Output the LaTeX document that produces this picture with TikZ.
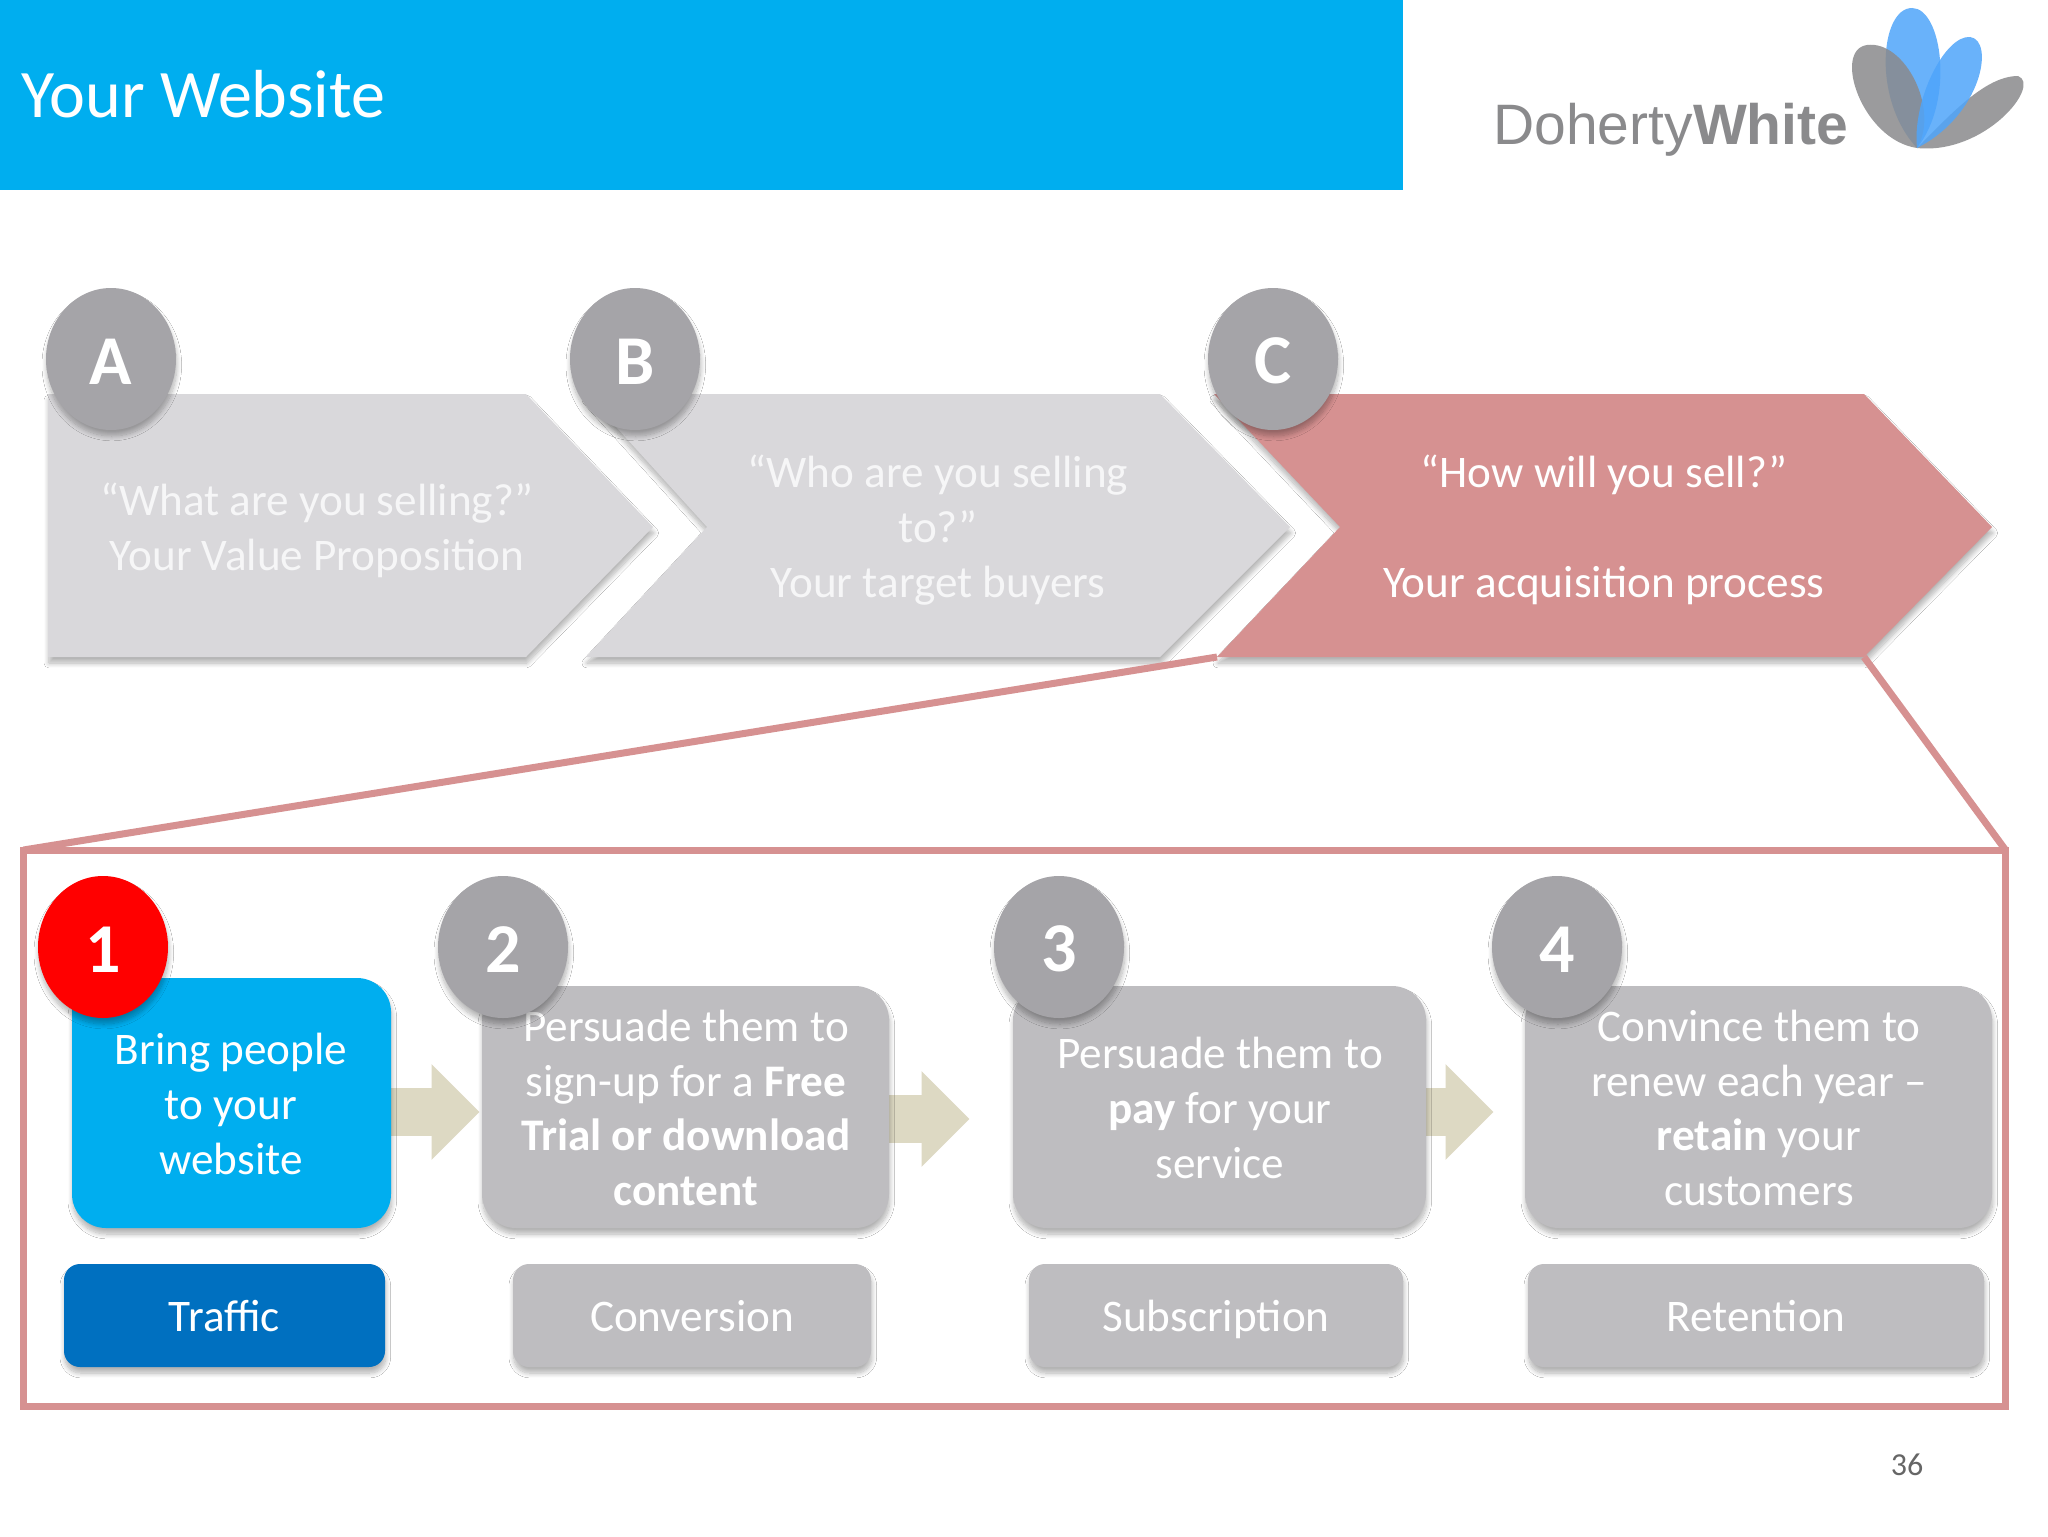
\documentclass[tikz,border=0pt]{standalone}
\usepackage{fontspec}
\setmainfont{Carlito}
\newfontfamily\logofont{Liberation Sans}
\usetikzlibrary{shapes.arrows,shapes.geometric,shadows.blur}
\definecolor{hdr}{HTML}{00AEEF}
\definecolor{chev}{HTML}{D9D8DB}
\definecolor{chevred}{HTML}{D69191}
\definecolor{circ}{HTML}{A5A4A8}
\definecolor{boxg}{HTML}{BEBDC0}
\definecolor{arr}{HTML}{DDD9C3}
\definecolor{traf}{HTML}{0070C0}
\definecolor{softw}{HTML}{F6F6F7}
\definecolor{logog}{HTML}{8A8A8C}
\definecolor{logob}{HTML}{4FA5FA}
\newcommand{\lift}{\rule[-8.2pt]{0pt}{32.6pt}}
\newcommand{\sink}{\rule{0pt}{25pt}}
\tikzset{
  x=0.5pt,y=-0.5pt,
  softshadow/.style={blur shadow={shadow xshift=0.4pt,shadow yshift=-3pt,shadow blur steps=10,shadow blur radius=2.4pt,shadow opacity=30}},
  txt/.style={text=white,font=\fontsize{22.6}{27.4}\selectfont,align=center,inner sep=0pt},
  dim/.style={txt,text=softw},
  badge/.style={ellipse,minimum width=65pt,minimum height=71pt,inner sep=0pt,fill=circ,text=white,font=\fontsize{35}{40}\selectfont\bfseries,softshadow},
  bigbox/.style={rectangle,rounded corners=17pt,fill=boxg,inner sep=0pt,softshadow},
  smallbox/.style={rectangle,rounded corners=8pt,fill=boxg,inner sep=0pt,minimum height=51.5pt,softshadow},
  flow/.style={single arrow,fill=arr,inner sep=0pt,inner ysep=11.75pt,single arrow head extend=12pt,single arrow head indent=0pt,anchor=tip},
  petalg/.style={fill=logog,fill opacity=.85},
  petalb/.style={fill=logob,fill opacity=.85},
}
\begin{document}
\begin{tikzpicture}
\useasboundingbox (0,0) rectangle (2048,1536);
\fill[white] (0,0) rectangle (2048,1536);
% header
\node[anchor=north west,fill=hdr,minimum width=701.5pt,minimum height=95pt,inner sep=0pt] (header) at (0,0) {};
\node[anchor=west,text=white,inner sep=0pt,font=\fontsize{34}{40}\selectfont] (title) at (21,94) {Your Website};
% logo
\node[anchor=base west,inner sep=0pt,text=logog,font=\logofont\fontsize{28.5}{30}\selectfont] (logotext) at (1493,144) {Doherty\textbf{White}};
\fill[petalb] (1917,148) .. controls (1872,100) and (1880,8) .. (1912,8) .. controls (1942,8) and (1955,100) .. (1917,148) -- cycle;
\fill[petalg] (1917,148) .. controls (1862,140) and (1832,50) .. (1867,45) .. controls (1905,40) and (1940,110) .. (1917,148) -- cycle;
\fill[petalg] (1917,148) .. controls (1950,115) and (1985,76) .. (2018,76) .. controls (2042,85) and (1985,155) .. (1917,148) -- cycle;
\fill[petalb] (1917,148) .. controls (1912,100) and (1945,35) .. (1970,37) .. controls (1995,40) and (1982,115) .. (1917,148) -- cycle;
% chevrons
\coordinate (cl) at (1217,657);
\coordinate (cr) at (1864,657);
\fill[chev,softshadow] (48,394) -- (526,394) -- (653,527) -- (526,657) -- (48,657) -- cycle;
\fill[chev,softshadow] (586,394) -- (1160,394) -- (1290,527) -- (1160,657) -- (586,657) -- (707,527) -- cycle;
\fill[chevred,softshadow] (1214,394) -- (1864,394) -- (1992,527) -- (1864,657) -- (cl) -- (1340,527) -- cycle;
\node[dim] (ta) at (317,530) {“What are you selling?”\\Your Value Proposition};
\node[dim] (tb) at (938,530) {“Who are you selling\\to?”\\Your target buyers};
\node[txt] (tc) at (1604,530) {“How will you sell?”\\[27.4pt]Your acquisition process};
\node[badge] (A) at (111,359) {\sink A};
\node[badge] (B) at (635,359) {\sink B};
\node[badge] (C) at (1273,359) {\sink C};
% frame
\node[draw=chevred,line width=3.5pt,rectangle,anchor=north west,minimum width=991pt,minimum height=278pt,inner sep=0pt,outer sep=0pt] (frame) at (23.5,850) {};
\draw[chevred,line width=3.5pt] (cl) -- (frame.north west);
\draw[chevred,line width=3.5pt] (cr) -- (frame.north east);
% arrows
\node[flow,minimum height=50pt] (f1) at (480,1112) {};
\node[flow,minimum height=46pt] (f2) at (970,1119) {};
\node[flow,minimum height=40pt] (f3) at (1494,1112) {};
% process boxes
\node[bigbox,fill=hdr,minimum width=159.5pt,minimum height=125pt] (b1) at (231.5,1103) {};
\node[bigbox,minimum width=203.5pt,minimum height=121pt] (b2) at (685.5,1107) {};
\node[bigbox,minimum width=206.5pt,minimum height=121pt] (b3) at (1219.5,1107) {};
\node[bigbox,minimum width=233.5pt,minimum height=121pt] (b4) at (1758.5,1107) {};
\node[txt] (t1) at (231,1104) {Bring people\\to your\\website};
\node[txt] (t2) at (686,1108) {Persuade them to\\sign-up for a \textbf{Free}\\\textbf{Trial or download}\\\textbf{content}};
\node[txt] (t3) at (1220,1108) {Persuade them to\\\textbf{pay} for your\\service};
\node[txt] (t4) at (1759,1108) {Convince them to\\renew each year –\\\textbf{retain} your\\customers};
\node[badge,fill=red] (n1) at (103,947) {\sink 1};
\node[badge] (n2) at (503,947) {\sink 2};
\node[badge] (n3) at (1059,947) {\sink 3};
\node[badge] (n4) at (1557,947) {\sink 4};
% stage labels
\node[smallbox,txt,fill=traf,minimum width=160.5pt] (s1) at (224.5,1315.5) {\lift Traffic};
\node[smallbox,txt,minimum width=179pt] (s2) at (692,1315.5) {\lift Conversion};
\node[smallbox,txt,minimum width=187pt] (s3) at (1216,1315.5) {\lift Subscription};
\node[smallbox,txt,minimum width=228pt] (s4) at (1756,1315.5) {\lift Retention};
\node[inner sep=0pt,text=black!60,font=\fontsize{16}{18}\selectfont] (pg) at (1907,1465) {36};
\end{tikzpicture}
\end{document}
